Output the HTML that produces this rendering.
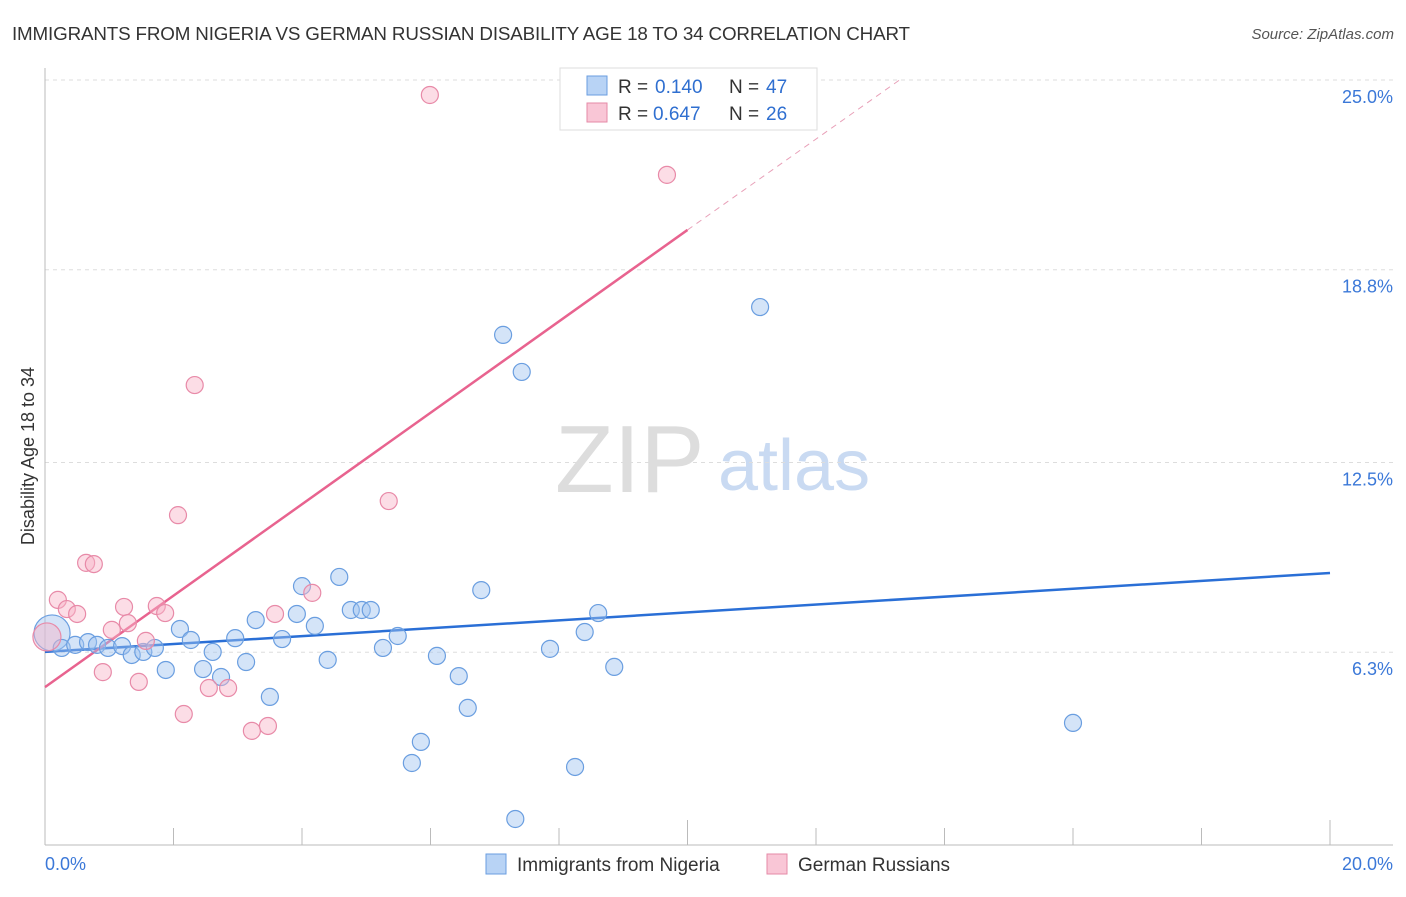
<!DOCTYPE html>
<html><head><meta charset="utf-8"><style>
body{margin:0;background:#fff;font-family:"Liberation Sans",sans-serif;}
svg text{font-family:"Liberation Sans",sans-serif;}
</style></head><body>
<svg id="c" width="1406" height="892">
<text x="12" y="40" font-size="18.8" fill="#333" textLength="898">IMMIGRANTS FROM NIGERIA VS GERMAN RUSSIAN DISABILITY AGE 18 TO 34 CORRELATION CHART</text>
<text x="1394" y="39" font-size="15" fill="#555" text-anchor="end" font-style="italic">Source: ZipAtlas.com</text>
<text x="34" y="456" font-size="18" fill="#333" text-anchor="middle" transform="rotate(-90 34 456)">Disability Age 18 to 34</text>
<text x="555" y="492" font-size="96" fill="#ddd" font-family="Liberation Serif">ZIP</text>
<text x="718" y="490" font-size="72" fill="#c9daf2">atlas</text>
<g id="grid"></g><g id="axes"></g><g id="lines"></g><g id="pts"></g>
<g>
<rect x="560" y="68" width="257" height="62" fill="#fff" stroke="#ddd"/>
<rect x="587" y="76" width="20" height="19" fill="#b8d3f5" stroke="#6a9ee0"/>
<text x="618" y="93" font-size="19" fill="#333">R =</text>
<text x="655" y="93" font-size="19" fill="#2f6fd0">0.140</text>
<text x="729" y="93" font-size="19" fill="#333">N =</text>
<text x="766" y="93" font-size="19" fill="#2f6fd0">47</text>
<rect x="587" y="103" width="20" height="19" fill="#f9c6d6" stroke="#e58aa7"/>
<text x="618" y="120" font-size="19" fill="#333">R =</text>
<text x="653" y="120" font-size="19" fill="#2f6fd0">0.647</text>
<text x="729" y="120" font-size="19" fill="#333">N =</text>
<text x="766" y="120" font-size="19" fill="#2f6fd0">26</text>
</g>
<g>
<rect x="486" y="854" width="20" height="20" fill="#b8d3f5" stroke="#6a9ee0"/>
<text x="517" y="871" font-size="19" fill="#333">Immigrants from Nigeria</text>
<rect x="767" y="854" width="20" height="20" fill="#f9c6d6" stroke="#e58aa7"/>
<text x="798" y="871" font-size="19" fill="#333">German Russians</text>
</g>
</svg>
<script>
const yTicks=[25.0,18.8,12.5,6.3];
const yTickLabels=["25.0%","18.8%","12.5%","6.3%"];
const xTickLabels=["0.0%","20.0%"];
const blueX=[0.11,0.26,0.47,0.67,0.81,0.98,1.20,1.35,1.53,1.71,1.88,2.10,2.27,2.46,2.61,2.74,2.96,3.13,3.28,3.50,3.69,3.92,4.00,4.20,4.40,4.58,4.76,4.93,5.07,5.26,5.49,5.71,5.85,6.10,6.44,6.58,6.79,7.13,7.32,7.42,7.86,8.25,8.40,8.61,8.86,11.13,16.00];
const blueY=[6.93,6.44,6.54,6.63,6.54,6.44,6.50,6.21,6.31,6.44,5.72,7.06,6.70,5.75,6.31,5.49,6.76,5.98,7.35,4.84,6.73,7.55,8.46,7.16,6.05,8.76,7.68,7.68,7.68,6.44,6.83,2.68,3.37,6.18,5.52,4.48,8.33,16.67,0.85,15.46,6.41,2.55,6.96,7.58,5.82,17.58,3.99];
const pinkX=[0.03,0.20,0.34,0.50,0.64,0.76,0.90,1.04,1.23,1.29,1.46,1.57,1.74,1.87,2.07,2.16,2.33,2.55,2.85,3.22,3.47,3.58,4.16,5.35,5.99,9.68];
const pinkY=[6.80,8.01,7.71,7.55,9.22,9.18,5.65,7.03,7.78,7.25,5.33,6.67,7.81,7.58,10.78,4.28,15.03,5.13,5.13,3.73,3.89,7.55,8.24,11.24,24.51,21.90];
const blueTrend=[6.31,8.89];
const pinkTrend=[5.16,20.1,25.0];
const pinkTrendX=[0,10,13.3];
const NS="http://www.w3.org/2000/svg";
const X=v=>45+v*64.25, Y=v=>845-v*30.6;
function mk(p,t,a){const e=document.createElementNS(NS,t);for(const k in a)e.setAttribute(k,a[k]);document.getElementById(p).appendChild(e);return e;}
yTicks.forEach((t,i)=>{
 const g=mk('grid','line',{x1:45,x2:1393,y1:Y(t),y2:Y(t),stroke:'#ddd','stroke-dasharray':'4,4'});
 
 
 const l=mk('grid','text',{x:1393,y:Y(t)+23,'font-size':18,fill:'#3b78d8','text-anchor':'end'});
 l.textContent=yTickLabels[i];
 
 
});
let a=mk('axes','line',{x1:45,x2:45,y1:68,y2:845,stroke:'#bbb'});


a=mk('axes','line',{x1:45,x2:1393,y1:845,y2:845,stroke:'#bbb'});


for(let i=0;i<=10;i++){const x=X(i*2);const t=mk('axes','line',{x1:x,x2:x,y1:(i%5==0)?820:828,y2:845,stroke:'#bbb'});
 
 }
[[0,45,'start'],[20,1393,'end']].forEach((d,i)=>{const t=mk('axes','text',{x:d[1],y:870,'font-size':18,fill:'#3b78d8','text-anchor':d[2]});t.textContent=xTickLabels[i];
 
 });
function pt(x,y,r,f,s,n){const c=mk('pts','circle',{cx:X(x),cy:Y(y),r:r,fill:f,stroke:s,'stroke-width':1.2});
 
 }
blueX.forEach((x,i)=>pt(x,blueY[i],i==0?18:8.5,'rgba(160,195,240,0.45)','#6a9ee0','nigeria-point'));
pinkX.forEach((x,i)=>pt(x,pinkY[i],i==0?14:8.5,'rgba(248,180,200,0.45)','#e88aa8','german-russian-point'));
let l=mk('lines','line',{x1:X(0),y1:Y(blueTrend[0]),x2:X(20),y2:Y(blueTrend[1]),stroke:'#2a6fd6','stroke-width':2.5});


l=mk('lines','line',{x1:X(pinkTrendX[0]),y1:Y(pinkTrend[0]),x2:X(pinkTrendX[1]),y2:Y(pinkTrend[1]),stroke:'#e8638f','stroke-width':2.5});


l=mk('lines','line',{x1:X(pinkTrendX[1]),y1:Y(pinkTrend[1]),x2:X(pinkTrendX[2]),y2:Y(pinkTrend[2]),stroke:'#e8a0b8','stroke-width':1,'stroke-dasharray':'6,5'});


</script>
</body></html>
